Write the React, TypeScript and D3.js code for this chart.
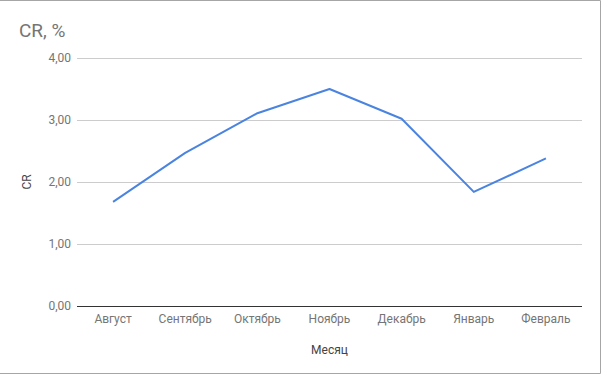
import React from 'react';
import * as d3 from 'd3';

// месяцы и значения CR
const months = ['Август', 'Сентябрь', 'Октябрь', 'Ноябрь', 'Декабрь', 'Январь', 'Февраль'];
const crValues = [1.68, 2.47, 3.11, 3.5, 3.02, 1.84, 2.38];
const yTicks = [0, 1, 2, 3, 4];

const W = 602;
const H = 375;
const margin = { top: 58, right: 20, bottom: 69, left: 77 };

const fmt = (v: number) => v.toFixed(2).replace('.', ',');

export default function App() {
  const x = d3.scaleBand<string>()
    .domain(months)
    .range([margin.left, W - margin.right])
    .padding(0);

  const y = d3.scaleLinear()
    .domain([0, 4])
    .range([H - margin.bottom, margin.top]);

  const line = d3.line<number>()
    .x((d, i) => x(months[i])! + x.bandwidth() / 2)
    .y(d => y(d));

  const font = 'Roboto, Arial, sans-serif';

  return (
    <div style={{ position: 'absolute', left: 0, top: 0 }}>
      <svg width={W} height={H} style={{ display: 'block', fontFamily: font }}>
        <rect x={0} y={0} width={W} height={H} fill="#fff" />
        {/* рамка */}
        <path d={`M0,0.5 H${W - 1.5} V${H - 1.5} H0`} fill="none" stroke="#a6a6a6" strokeWidth={1} />

        <text x={19} y={37} fontSize={19} fill="#757575">CR, %</text>

        {yTicks.map(t => (
          <g key={t}>
            {t > 0 && (
              <line x1={margin.left} x2={W - margin.right} y1={y(t) + 0.5} y2={y(t) + 0.5} stroke="#cccccc" />
            )}
            <text x={71} y={y(t)} dy="0.35em" textAnchor="end" fontSize={12} fill="#757575">{fmt(t)}</text>
          </g>
        ))}

        <line x1={margin.left} x2={W - margin.right} y1={y(0) + 0.5} y2={y(0) + 0.5} stroke="#333" />

        {months.map(m => (
          <text key={m} x={x(m)! + x.bandwidth() / 2} y={323} textAnchor="middle" fontSize={12} fill="#757575">{m}</text>
        ))}

        <text x={(margin.left + W - margin.right) / 2} y={354} textAnchor="middle" fontSize={12} fill="#444">Месяц</text>
        <text transform={`translate(31, ${y(2)}) rotate(-90)`} textAnchor="middle" fontSize={12} fill="#444">CR</text>

        <path d={line(crValues) ?? ''} fill="none" stroke="#4a84e0" strokeWidth={2} strokeLinejoin="round" />
      </svg>
    </div>
  );
}
